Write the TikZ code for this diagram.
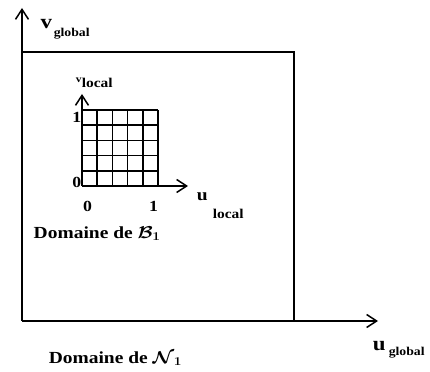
\documentclass[tikz,border=0pt]{standalone}
\usepackage{fontspec}
\usepackage{graphicx}
\setmainfont{Liberation Serif}
\usetikzlibrary{arrows.meta}
\newcommand{\wtxt}[1]{\scalebox{1.15}[1]{#1}}

\begin{document}
\begin{tikzpicture}[x=1bp, y=1bp, line width=1.5bp]
  \tikzset{axis/.style={-{Straight Barb[length=10bp, width=13bp]}},
           big/.style={inner sep=0pt, anchor=base west, font=\bfseries\fontsize{20}{22}\selectfont},
           lbl/.style={inner sep=0pt, anchor=base west, font=\bfseries\boldmath\fontsize{17}{19}\selectfont},
           num/.style={inner sep=0pt, font=\bfseries\fontsize{15.5}{17}\selectfont},
           sub/.style={inner sep=0pt, anchor=base west, font=\bfseries\fontsize{12}{14}\selectfont}}
  \useasboundingbox (0,0) rectangle (430,372);

  \coordinate (go) at (22,51);
  \coordinate (gv) at (22,364);
  \coordinate (gu) at (378,51);
  \coordinate (gtl) at (22,320);
  \coordinate (gbr) at (294,51);
  \draw[axis] (go) -- (gv);
  \draw[axis] (go) -- (gu);
  \draw (gtl) -| (gbr);

  \coordinate (lo) at (82,186);
  \coordinate (lv) at (82,278);
  \coordinate (lu) at (188,186);
  \foreach \i in {0,...,5} {
    \draw (82+\i*15.2,186) -- (82+\i*15.2,262);
    \draw (82,186+\i*15.2) -- (158,186+\i*15.2);
  }
  \draw[axis] (lo) -- (lv);
  \draw[axis] (lo) -- (lu);

  \node[big] (vg) at (40,344) {\wtxt{v}};
  \node[sub] (vgs) at (53,336) {\wtxt{global}};
  \node[big] (ug) at (372,22) {\wtxt{u}};
  \node[sub] (ugs) at (388,17) {\wtxt{global}};

  \node[inner sep=0pt, anchor=base west, font=\bfseries\fontsize{10}{12}\selectfont] (vl) at (75,290) {\wtxt{v}};
  \node[sub, font=\bfseries\fontsize{13.5}{15}\selectfont] (vls) at (81,285) {\wtxt{local}};
  \node[lbl, font=\bfseries\fontsize{17}{19}\selectfont] (ul) at (196,172) {\wtxt{u}};
  \node[sub, font=\bfseries\fontsize{13.5}{15}\selectfont] (uls) at (212,154) {\wtxt{local}};

  \node[num, anchor=base east] (v1) at (82,250) {\wtxt{1}};
  \node[num, anchor=base east] (v0) at (82,185) {\wtxt{0}};
  \node[num, anchor=base] (u0) at (87.5,161) {\wtxt{0}};
  \node[num, anchor=base] (u1) at (153.5,161) {\wtxt{1}};

  \node[lbl] (domb) at (33,134) {\wtxt{Domaine de $\mathcal{B}_1$}};
  \node[lbl] (domn) at (48,9) {\wtxt{Domaine de $\mathcal{N}_{\,1}$}};
\end{tikzpicture}
\end{document}
